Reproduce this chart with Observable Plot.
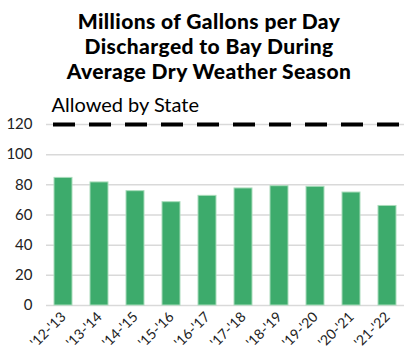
<!DOCTYPE html>
<html>
<head>
<meta charset="utf-8">
<script src="https://cdn.jsdelivr.net/npm/d3@7"></script>
<script src="https://cdn.jsdelivr.net/npm/@observablehq/plot@0.6"></script>
<style>
  body { margin: 0; background: #fff; font-family: Lato, "Open Sans", sans-serif; }
  #title { width: 404px; height: 84px; box-sizing: border-box; padding-top: 8px; text-align: center;
           font-weight: 900; font-size: 21px; line-height: 25px; letter-spacing: 0.4px; color: #000; padding-left: 14px; }
  #chart svg { display: block; }
</style>
</head>
<body>
<div id="title">Millions of Gallons per Day<br>Discharged to Bay During<br>Average Dry Weather Season</div>
<div id="chart"></div>
<script>
const seasons = ["'12-'13", "'13-'14", "'14-'15", "'15-'16", "'16-'17", "'17-'18", "'18-'19", "'19-'20", "'20-'21", "'21-'22"];
const mgd = [84.6, 81.6, 75.8, 68.5, 72.7, 77.6, 79.1, 78.7, 74.9, 66.0];
const allowedLimit = 120;
const allowedLabel = "Allowed by State";
const yTicks = [0, 20, 40, 60, 80, 100, 120];

const data = seasons.map((s, i) => ({season: s, value: mgd[i]}));

const chart = Plot.plot({
  width: 404,
  height: 271,
  marginLeft: 46,
  marginRight: 0,
  marginTop: 40,
  marginBottom: 50,
  style: {fontFamily: "Lato, 'Open Sans', sans-serif", color: "#222", background: "#fff"},
  x: {domain: seasons, paddingInner: 0.5, paddingOuter: 0.22, label: null},
  y: {domain: [0, 120], ticks: yTicks, label: null},
  marks: [
    Plot.ruleY(yTicks, {stroke: "#d9d9d9", strokeWidth: 1.5}),
    Plot.barY(data, {x: "season", y: "value", fill: "#3dab6c", stroke: "#a9dcbb", strokeWidth: 1}),
    Plot.ruleY([allowedLimit], {stroke: "#000", strokeWidth: 4, strokeDasharray: "22,14", strokeDashoffset: 29}),
    Plot.text([allowedLabel], {frameAnchor: "top-left", text: d => d, dx: 5, dy: -13, lineAnchor: "bottom", textAnchor: "start", fontSize: 20, fill: "#000"}),
    Plot.axisY({ticks: yTicks, tickSize: 0, tickPadding: 14, fontSize: 15, label: null}),
    Plot.axisX({tickSize: 0, tickRotate: -45, tickPadding: 9, fontSize: 14, label: null})
  ]
});
document.getElementById("chart").appendChild(chart);
</script>
</body>
</html>
